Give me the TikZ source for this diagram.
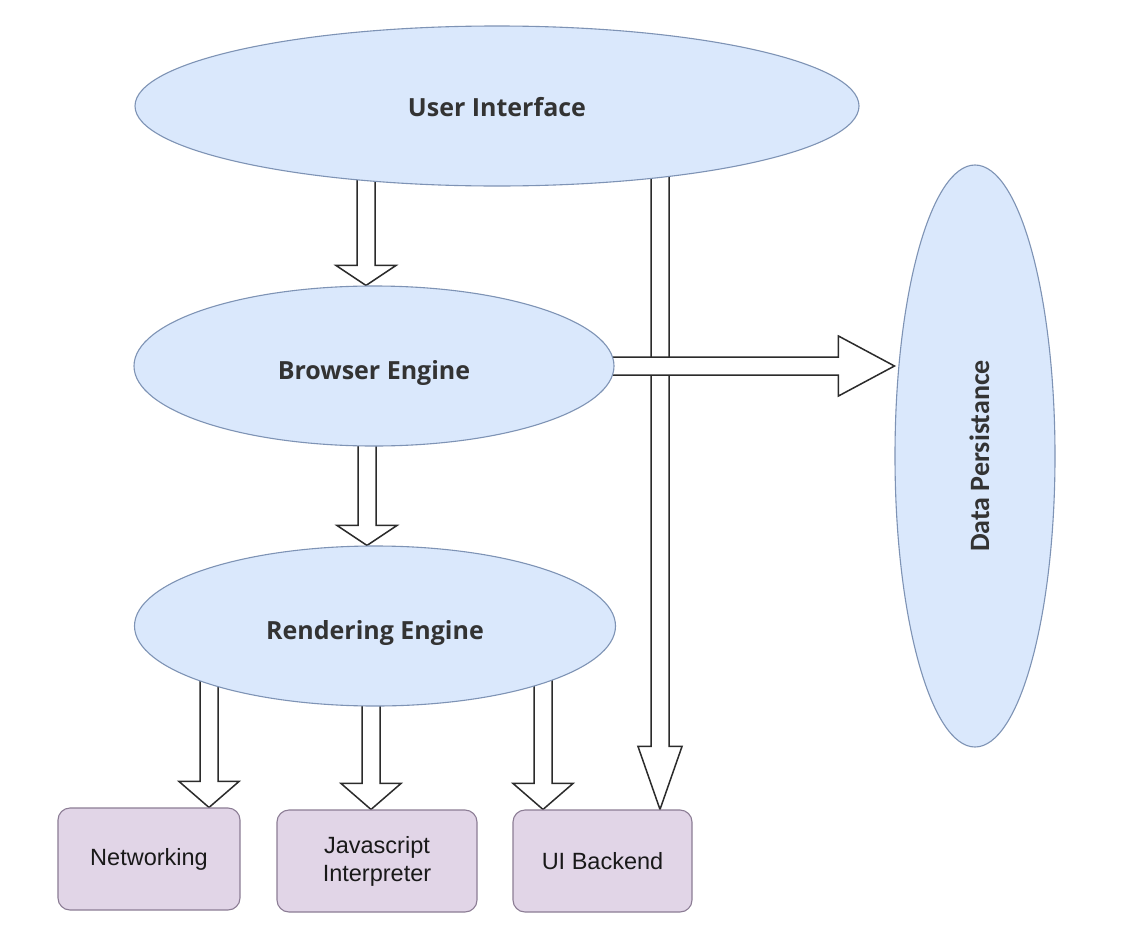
\documentclass[tikz,border=0pt]{standalone}
\usepackage{fontspec}
\setmainfont{Liberation Sans}
\newfontfamily\ellfont{Open Sans}
\newfontfamily\dpfont{Carlito}
\usetikzlibrary{shapes.geometric,calc}
\pgfdeclarelayer{bg}
\pgfsetlayers{bg,main}
\definecolor{elfill}{HTML}{DAE8FC}
\definecolor{eldraw}{HTML}{7E93B5}
\definecolor{bxfill}{HTML}{E1D5E7}
\definecolor{bxdraw}{HTML}{8C7D95}
\definecolor{txt}{HTML}{333333}
\definecolor{arr}{HTML}{2B2B2B}
\tikzset{
  ell/.style={ellipse, draw=eldraw, fill=elfill, line width=1.1bp, inner sep=0pt,
    text=txt, font=\ellfont\fontsize{25bp}{30bp}\selectfont\bfseries},
  bx/.style={rectangle, rounded corners=12bp, draw=bxdraw, fill=bxfill, line width=1.1bp,
    inner sep=0pt, minimum height=102bp, text=black!90, align=center,
    font=\fontsize{23.5bp}{28bp}\selectfont},
  blockarrow/.style={draw=arr, fill=white, line width=1.5bp, line join=miter},
}
% text placed with its baseline lowered from the node centre
\newcommand\lowtext[2]{\raisebox{-#1}[0pt][0pt]{#2}}
% vertical block arrow: start, end, head half width, head length
\newcommand\vblock[4]{%
  \draw[blockarrow] let \p1=(#1), \p2=(#2) in
    (\x1-9bp,\y1) -- (\x1-9bp,\y2+#4) -- (\x1-#3,\y2+#4) -- (\x1,\y2)
    -- (\x1+#3,\y2+#4) -- (\x1+9bp,\y2+#4) -- (\x1+9bp,\y1) -- cycle;}
% horizontal block arrow: start, end, head half width, head length
\newcommand\hblock[4]{%
  \draw[blockarrow] let \p1=(#1), \p2=(#2) in
    (\x1,\y1+9bp) -- (\x2-#4,\y1+9bp) -- (\x2-#4,\y1+#3) -- (\x2,\y1)
    -- (\x2-#4,\y1-#3) -- (\x2-#4,\y1-9bp) -- (\x1,\y1-9bp) -- cycle;}
\begin{document}
\begin{tikzpicture}[x=1bp, y=-1bp]
\useasboundingbox (0,0) rectangle (1132,930);

\node[ell, minimum width=724bp, minimum height=160bp] (ui) at (497,106) {\lowtext{10bp}{User Interface}};
\node[ell, minimum width=480bp, minimum height=160bp] (be) at (374,366) {\lowtext{13bp}{Browser Engine}};
\node[ell, minimum width=481bp, minimum height=160bp] (re) at (375,626) {\lowtext{13bp}{Rendering Engine}};
\node[ell, minimum width=160bp, minimum height=582bp,
      font=\dpfont\fontsize{28bp}{32bp}\selectfont\bfseries] (dp) at (975,456)
      {\rotatebox{90}{\lowtext{14bp}{Data Persistance}}};

\node[bx, minimum width=182bp] (net) at (149,859) {Networking};
\node[bx, minimum width=200bp] (js) at (377,861) {Javascript\\Interpreter};
\node[bx, minimum width=179bp] (uib) at (602.5,861) {UI Backend};

\coordinate (uiA) at (366,106);
\coordinate (uiB) at (660,106);
\coordinate (beA) at (367,366);
\coordinate (reA) at (209,626);
\coordinate (reB) at (371,626);
\coordinate (reC) at (543,626);

\begin{pgfonlayer}{bg}
  \fill[white] (0,0) rectangle (1132,930);
  \vblock{uiA}{uiA |- be.north}{30bp}{20bp}
  \vblock{beA}{beA |- re.north}{30bp}{20bp}
  \vblock{uiB}{uiB |- uib.north}{22bp}{63bp}
  \hblock{be.center}{be.center -| dp.west}{30bp}{56bp}
  \vblock{reA}{reA |- net.north}{30bp}{26bp}
  \vblock{reB}{reB |- js.north}{30bp}{26bp}
  \vblock{reC}{reC |- uib.north}{30bp}{26bp}
\end{pgfonlayer}
\end{tikzpicture}
\end{document}
